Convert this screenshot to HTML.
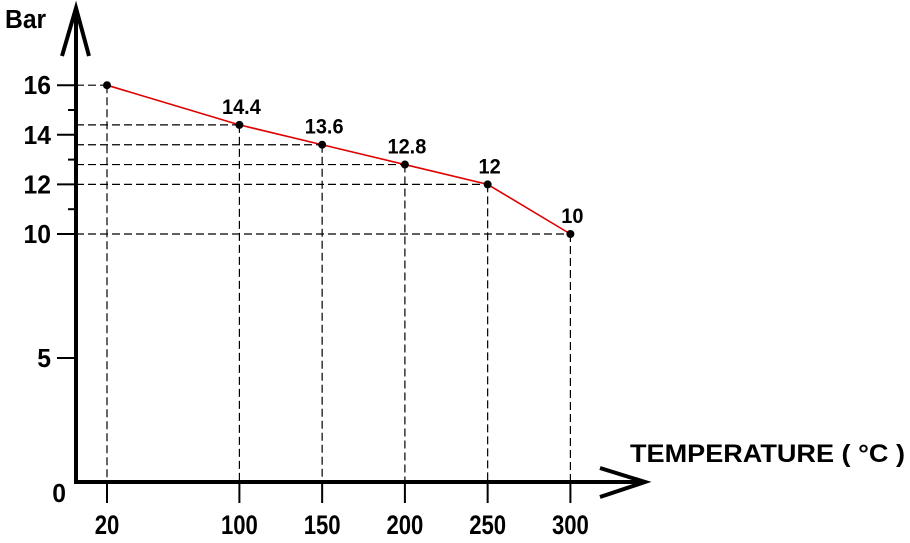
<!DOCTYPE html>
<html><head><meta charset="utf-8"><style>
body{margin:0;background:#fff}
svg{display:block;font-family:"Liberation Sans",Arial,sans-serif;font-weight:bold}
</style></head><body>
<svg id="chart" width="910" height="543" viewBox="0 0 910 543">
<g id="grid"></g><g id="axes"></g><g id="series"></g><g id="labels"></g>
</svg>
<script>
const temps=[20,100,150,200,250,300];
const pressures=[16,14.4,13.6,12.8,12,10];
const pointLabels=["","14.4","13.6","12.8","12","10"];
const yTicks=[0,5,10,12,14,16];
const yMinor=[11,13,15];
const NS="http://www.w3.org/2000/svg";
const X0=76,Y0=482;
function sx(v){return 107+(v-20)*1.655;}
function sy(v){return Y0-v*24.8;}
function mk(parent,tag,attrs,text){const e=document.createElementNS(NS,tag);for(const k in attrs)e.setAttribute(k,attrs[k]);if(text!==undefined)e.textContent=text;document.getElementById(parent).appendChild(e);return e;}
function txt(x,y,size,anchor,s,scale){return mk('labels','text',{transform:`translate(${x},${y}) scale(${scale},1)`,'font-size':size,'text-anchor':anchor},s);}
temps.forEach((t,i)=>{
 const x=sx(t),y=sy(pressures[i]);
 const h=mk('grid','line',{x1:X0,y1:y,x2:x,y2:y,stroke:'#000','stroke-width':1.2,'stroke-dasharray':'8,4'});
 
 
 const v=mk('grid','line',{x1:x,y1:y,x2:x,y2:Y0,stroke:'#000','stroke-width':1.2,'stroke-dasharray':'8,4'});
 
 
 const tk=mk('axes','line',{x1:x,y1:Y0,x2:x,y2:503,stroke:'#000','stroke-width':2});
 
 
 const tl=txt(x,534,27,'middle',String(t),0.82);
 
 
});
yTicks.forEach(v=>{
 const y=sy(v);
 if(v>0){const tk=mk('axes','line',{x1:57,y1:y,x2:X0,y2:y,stroke:'#000','stroke-width':2});
 
 }
 const tl=txt(v>0?51:66,v>0?y+9:y+20,26,'end',String(v),0.95);
 
 
});
yMinor.forEach(v=>{
 const tk=mk('axes','line',{x1:68,y1:sy(v),x2:X0,y2:sy(v),stroke:'#000','stroke-width':2});
 
 
});
let a=mk('axes','path',{d:`M${X0},${Y0} V10 M62,56 L${X0},8 L89,56`,stroke:'#000','stroke-width':4,fill:'none'});


a=mk('axes','path',{d:`M${X0-2},${Y0} H643 M600,468 L645,482 L600,497`,stroke:'#000','stroke-width':4,fill:'none'});


const pts=temps.map((t,i)=>sx(t)+','+sy(pressures[i])).join(' ');
const pl=mk('series','polyline',{points:pts,stroke:'#e00000','stroke-width':1.6,fill:'none'});


temps.forEach((t,i)=>{
 const c=mk('series','circle',{cx:sx(t),cy:sy(pressures[i]),r:4,fill:'#000'});
 
 
 if(pointLabels[i]){const l=txt(sx(t)+2,sy(pressures[i])-11,21,'middle',pointLabels[i],0.95);
 
 }
});
let t=txt(5,28,26,'start','Bar',0.95);


t=mk('labels','text',{x:630,y:462,'font-size':25,textLength:275,lengthAdjust:'spacingAndGlyphs'},'TEMPERATURE ( °C )');


</script>
</body></html>
